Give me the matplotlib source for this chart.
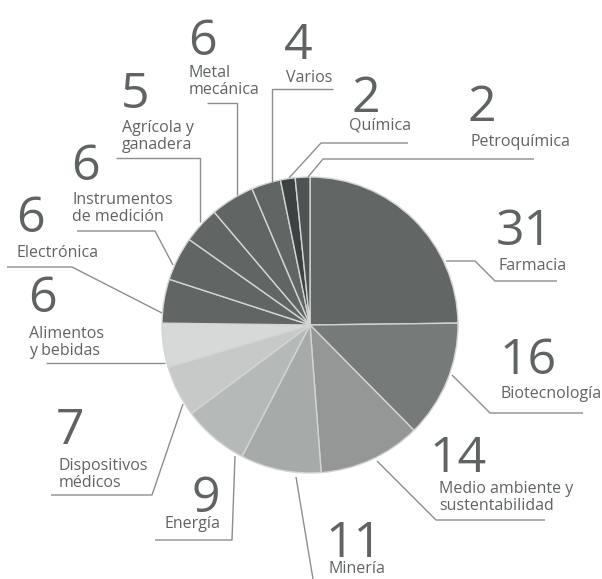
import matplotlib
matplotlib.use('Agg')
import matplotlib.pyplot as plt

# Data: sector counts, clockwise from 12 o'clock
sectores = ['Farmacia', 'Biotecnología', 'Medio ambiente y\nsustentabilidad', 'Minería',
            'Energía', 'Dispositivos\nmédicos', 'Alimentos\ny bebidas', 'Electrónica',
            'Instrumentos\nde medición', 'Agrícola y\nganadera', 'Metal\nmecánica',
            'Varios', 'Química', 'Petroquímica']
valores = [31, 16, 14, 11, 9, 7, 6, 6, 6, 5, 6, 4, 2, 2]
colores = ['#626766', '#767b7a', '#949796', '#a6aba9', '#b5bab8', '#c6c9c8', '#d6d9d7',
           '#616665', '#616665', '#616665', '#616665', '#616665', '#3b4241', '#4d5453']

W, H = 602, 579
TXT = '#5f6462'
LINE = '#8c8e8d'

# label layout in pixel coords (top-left origin):
# number left x, number baseline, label baseline of first line, leader polyline
layout = [
    (497, 245, 270, [(446, 261), (475, 261), (495, 281), (557, 281)]),
    (500, 374, 398, [(452, 375), (490, 413), (583, 413)]),
    (430, 472, 493, [(377, 461), (436, 520), (545, 520)]),
    (327, 557, 573, [(296, 477), (313, 579)]),
    (193, 512, 528, [(235, 456), (232, 540), (155, 540)]),
    (57, 444, 470, [(183, 404), (152, 495), (51, 495)]),
    (29, 312, 338, [(165, 363), (46, 363)]),
    (17, 232, 257, [(162, 313), (72, 267), (7, 267)]),
    (72, 180, 204, [(173, 265), (155, 231), (77, 231)]),
    (122, 108, 132, [(200, 222), (200, 158), (116, 158)]),
    (189, 55, 77, [(237, 195), (237, 103), (207, 103)]),
    (285, 59, 82, [(272, 182), (272, 89), (333, 89)]),
    (352, 112, 129, [(289, 178), (321, 143), (408, 143)]),
    (468, 121, 146, [(308, 177), (323, 159), (534, 159)]),
]
label_dx = [2, 1, 9, 1, -29, 2, 0, 0, 0, 0, 0, 1, -3, 2]


def Y(y):
    return H - y


fig = plt.figure(figsize=(W / 100, H / 100), dpi=100)
ax = fig.add_axes([0, 0, 1, 1])

ax.pie(valores, colors=colores, startangle=90, counterclock=False,
       center=(310, Y(325)), radius=148,
       wedgeprops=dict(edgecolor='#d3d5d4', linewidth=1.0))

for (nx, nb, lb, pts), lab, val, dx in zip(layout, sectores, valores, label_dx):
    xs = [p[0] for p in pts]
    ys = [Y(p[1]) for p in pts]
    ax.plot(xs, ys, color=LINE, lw=1.0, solid_capstyle='butt')
    ax.text(nx - 1, Y(nb), str(val), fontsize=36, color=TXT, family='Open Sans',
            fontweight='normal', ha='left', va='baseline')
    for i, line in enumerate(lab.split('\n')):
        ax.text(nx + dx, Y(lb + i * 17), line, fontsize=11.5, color=TXT,
                family='Open Sans', ha='left', va='baseline')

ax.set_xlim(0, W)
ax.set_ylim(0, H)
ax.set_aspect('equal')
ax.axis('off')

plt.savefig('out.png', dpi=100)
